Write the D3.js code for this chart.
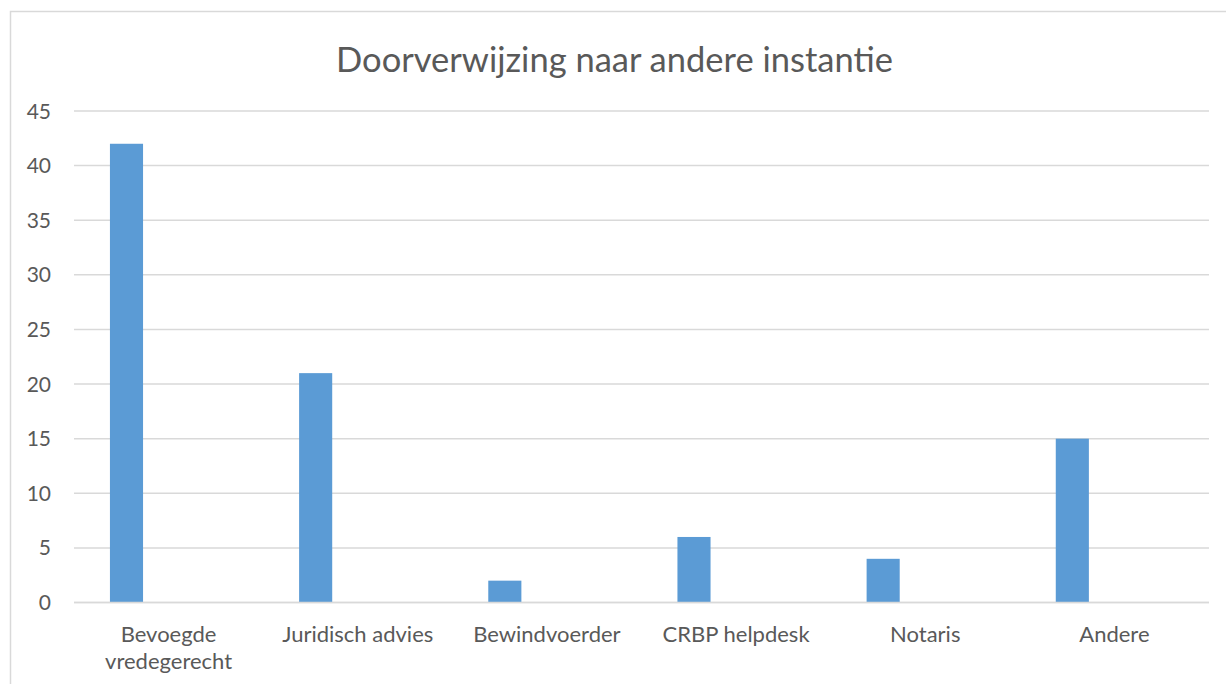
<!DOCTYPE html>
<meta charset="utf-8">
<script src="https://d3js.org/d3.v7.min.js"></script>
<style>
  body { margin: 0; background: #fff; }
  text { font-family: Lato, "Open Sans", sans-serif; fill: #595959; }
</style>
<body>
<script>
var w = 1226,
	h = 684,
	categories = ["Bevoegde vredegerecht", "Juridisch advies", "Bewindvoerder", "CRBP helpdesk", "Notaris", "Andere"],
	values = [42, 21, 2, 6, 4, 15],
	yTicks = [0, 5, 10, 15, 20, 25, 30, 35, 40, 45],
	title = "Doorverwijzing naar andere instantie";

var svg = d3.select("body").append("svg")
	.attr("width", w)
	.attr("height", h);

// chart frame
svg.append("rect")
	.attr("x", 10.5)
	.attr("y", 11.5)
	.attr("width", w + 20)
	.attr("height", h + 20)
	.style("fill", "none")
	.style("stroke", "#d9d9d9")
	.style("stroke-width", 1.5);

var x = d3.scaleBand().domain(categories).range([74, 1209]).padding(0);
var y = d3.scaleLinear().domain([0, 45]).range([602.5, 111]);

// gridlines
svg.selectAll(".grid")
	.data(yTicks)
	.enter()
	.append("line")
	.attr("x1", 74)
	.attr("x2", 1209)
	.attr("y1", function(d) { return y(d); })
	.attr("y2", function(d) { return y(d); })
	.style("stroke", "#d9d9d9")
	.style("stroke-width", 1.5);

svg.selectAll(".ytick")
	.data(yTicks)
	.enter()
	.append("text")
	.text(function(d) { return d; })
	.attr("x", 51)
	.attr("y", function(d) { return y(d); })
	.attr("dy", "0.36em")
	.style("text-anchor", "end")
	.style("font-size", "21px");

// bars (single series sits in the left part of each category slot)
svg.selectAll(".bar")
	.data(values)
	.enter()
	.append("rect")
	.attr("x", function(d, i) { return x(categories[i]) + x.bandwidth() * 0.19; })
	.attr("y", function(d) { return y(d); })
	.attr("width", x.bandwidth() * 0.175)
	.attr("height", function(d) { return y(0) - y(d); })
	.style("fill", "#5b9bd5");

// redraw zero line over bars
svg.append("line")
	.attr("x1", 74).attr("x2", 1209)
	.attr("y1", y(0)).attr("y2", y(0))
	.style("stroke", "#d9d9d9")
	.style("stroke-width", 1.5);

// category labels, wrapped like Excel
var wrapped = {"Bevoegde vredegerecht": ["Bevoegde", "vredegerecht"]};
var lab = svg.selectAll(".xlabel")
	.data(categories)
	.enter()
	.append("text")
	.attr("x", function(d) { return x(d) + x.bandwidth() / 2; })
	.attr("y", 641.5)
	.style("text-anchor", "middle")
	.style("font-size", "22px");

lab.selectAll("tspan")
	.data(function(d) { return wrapped[d] || [d]; })
	.enter()
	.append("tspan")
	.attr("x", function() { return d3.select(this.parentNode).attr("x"); })
	.attr("dy", function(d, i) { return i ? 27 : 0; })
	.text(function(d) { return d; });

svg.append("text")
	.attr("x", 614.5)
	.attr("y", 72)
	.style("text-anchor", "middle")
	.style("font-size", "34.5px")
	.text(title);
</script>
</body>
